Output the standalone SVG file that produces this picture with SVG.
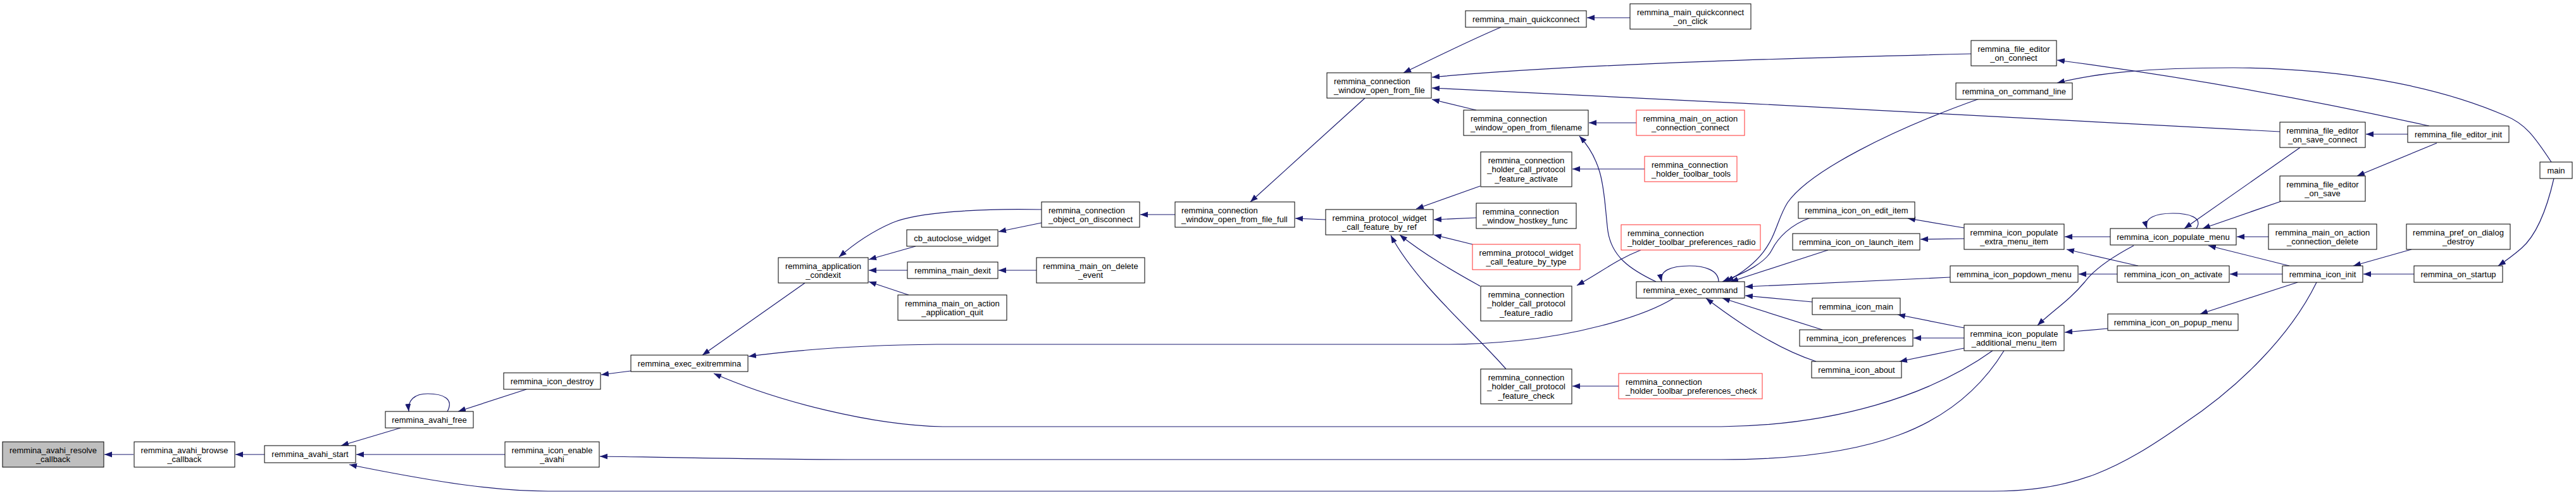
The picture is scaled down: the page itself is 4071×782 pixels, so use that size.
<svg xmlns="http://www.w3.org/2000/svg" width="4071" height="782" viewBox="0 0 4071 782">
<defs>
<style>
.node rect{fill:#ffffff;stroke:#000000;stroke-width:1}
.root rect{fill:#bfbfbf}
.red rect{stroke:#ff3030}
text{font-family:"Liberation Sans",Arial,Helvetica,sans-serif;font-size:13px;fill:#000000}
.c{text-anchor:middle}
.edges path{fill:none;stroke:#191970;stroke-width:1.2;marker-end:url(#arr)}
</style>
<marker id="arr" markerUnits="userSpaceOnUse" markerWidth="13" markerHeight="10" refX="12" refY="4.5" orient="auto">
<path d="M0,0 L12,4.5 L0,9 z" fill="#191970"/>
</marker>
</defs>
<rect x="0" y="0" width="4071" height="782" fill="#ffffff"/>
<g class="edges">
<path d="M211,718 L165,718"/>
<path d="M418,718 L372,718"/>
<path d="M633,676 L539,704"/>
<path d="M707,650 C718,630 700,622 676,622 C655,622 644,632 646,650"/>
<path d="M798,718 L563,718"/>
<path d="M3661,446 C3620,530 3540,610 3450,670 C3350,740 3280,776 3150,776 L866,776 C790,776 700,764 552,734"/>
<path d="M832,615 L724,650"/>
<path d="M997,586 L950,592"/>
<path d="M1272,447 L1110,561"/>
<path d="M2645,471 C2590,505 2480,530 2400,538 C2350,543 2320,544 2290,544 L1480,544 C1380,545 1280,550 1183,563"/>
<path d="M3149,554 C3050,625 2900,672 2720,674 L1490,674 C1380,672 1230,635 1128,590"/>
<path d="M3167,554 C3090,680 2950,726 2720,726 L1360,726 C1200,726 1050,722 948,721"/>
<path d="M1646,331 C1550,329 1450,335 1410,352 C1380,365 1350,385 1326,406"/>
<path d="M1447,389 L1373,410"/>
<path d="M1434,427 L1373,427"/>
<path d="M1436,466 L1373,445"/>
<path d="M1646,352 L1578,366"/>
<path d="M1857,339 L1802,339"/>
<path d="M1638,427 L1578,427"/>
<path d="M2157,155 L1976,319"/>
<path d="M2095,347 L2047,345"/>
<path d="M2372,43 C2320,65 2260,95 2218,115"/>
<path d="M3115,85 C2900,90 2500,100 2263,122"/>
<path d="M3603,208 C3300,190 2700,160 2263,139"/>
<path d="M2333,174 L2263,157"/>
<path d="M2576,28 L2508,28"/>
<path d="M2586,194 L2511,194"/>
<path d="M2617,445 C2575,425 2547,405 2541,365 C2534,310 2538,260 2496,215"/>
<path d="M2599,267 L2485,267"/>
<path d="M2339,294 L2238,330"/>
<path d="M2333,344 L2266,347"/>
<path d="M2327,386 L2266,371"/>
<path d="M2339,452 C2300,430 2255,405 2212,371"/>
<path d="M2380,583 C2330,525 2240,450 2198,372"/>
<path d="M2593,395 C2555,410 2530,430 2492,451"/>
<path d="M2558,610 L2485,610"/>
<path d="M2716,445 C2716,426 2692,420 2670,420 C2640,420 2622,428 2626,445"/>
<path d="M3128,156 C2990,205 2860,270 2825,320 C2800,360 2810,400 2728,445"/>
<path d="M2861,344 C2830,355 2810,375 2800,395 C2790,415 2760,430 2722,445"/>
<path d="M2889,395 L2735,445"/>
<path d="M3082,438 L2758,453"/>
<path d="M2864,477 L2758,467"/>
<path d="M2880,521 L2722,471"/>
<path d="M2870,571 C2820,555 2760,520 2696,471"/>
<path d="M3104,360 L3015,345"/>
<path d="M3104,377 L3035,378"/>
<path d="M3335,374 L3263,374"/>
<path d="M3471,361 C3482,344 3460,337 3434,337 C3405,337 3388,345 3393,361"/>
<path d="M3635,233 L3452,361"/>
<path d="M3605,318 L3481,361"/>
<path d="M3585,374 L3535,374"/>
<path d="M3618,420 L3490,388"/>
<path d="M3372,388 C3340,405 3310,425 3295,445 C3270,475 3245,490 3220,514"/>
<path d="M3379,420 L3266,394"/>
<path d="M3346,433 L3285,433"/>
<path d="M3331,519 L3263,525"/>
<path d="M3104,518 L2999,497"/>
<path d="M3104,534 L3024,534"/>
<path d="M3104,550 L3002,571"/>
<path d="M3607,433 L3524,433"/>
<path d="M3631,446 L3477,496"/>
<path d="M3815,433 L3735,433"/>
<path d="M4036,282 C4025,330 4010,370 3985,392 C3970,405 3960,412 3948,420"/>
<path d="M4032,256 C4005,215 3990,195 3960,183 C3850,135 3700,108 3530,107 C3390,107 3310,116 3251,131"/>
<path d="M3839,199 C3700,168 3500,128 3251,95"/>
<path d="M3805,212 L3739,212"/>
<path d="M3851,226 L3725,278"/>
<path d="M3811,394 L3719,420"/>
</g>
<g id="n1" class="node root"><rect x="4" y="698" width="160" height="40"/><text class="c" x="84" y="715.5">remmina_avahi_resolve</text><text class="c" x="84" y="729.5">_callback</text></g>
<g id="n2" class="node"><rect x="212" y="698" width="159" height="40"/><text class="c" x="291.5" y="715.5">remmina_avahi_browse</text><text class="c" x="291.5" y="729.5">_callback</text></g>
<g id="n3" class="node"><rect x="418" y="704" width="144" height="27"/><text class="c" x="490" y="722">remmina_avahi_start</text></g>
<g id="n4" class="node"><rect x="609" y="650" width="139" height="26"/><text class="c" x="678.5" y="667.5">remmina_avahi_free</text></g>
<g id="n5" class="node"><rect x="796" y="589" width="153" height="26"/><text class="c" x="872.5" y="606.5">remmina_icon_destroy</text></g>
<g id="n6" class="node"><rect x="997" y="561" width="185" height="26"/><text class="c" x="1089.5" y="578.5">remmina_exec_exitremmina</text></g>
<g id="n7" class="node"><rect x="1230" y="407" width="142" height="40"/><text class="c" x="1301" y="424.5">remmina_application</text><text class="c" x="1301" y="438.5">_condexit</text></g>
<g id="n8" class="node"><rect x="798" y="698" width="149" height="40"/><text class="c" x="872.5" y="715.5">remmina_icon_enable</text><text class="c" x="872.5" y="729.5">_avahi</text></g>
<g id="n9" class="node"><rect x="1433" y="363" width="144" height="26"/><text class="c" x="1505" y="380.5">cb_autoclose_widget</text></g>
<g id="n10" class="node"><rect x="1646" y="319" width="155" height="40"/><text x="1657" y="336.5">remmina_connection</text><text x="1657" y="350.5">_object_on_disconnect</text></g>
<g id="n11" class="node"><rect x="1857" y="319" width="189" height="40"/><text x="1867" y="336.5">remmina_connection</text><text x="1867" y="350.5">_window_open_from_file_full</text></g>
<g id="n12" class="node"><rect x="1434" y="414" width="143" height="26"/><text class="c" x="1505.5" y="431.5">remmina_main_dexit</text></g>
<g id="n13" class="node"><rect x="1638" y="407" width="171" height="40"/><text class="c" x="1723.5" y="424.5">remmina_main_on_delete</text><text class="c" x="1723.5" y="438.5">_event</text></g>
<g id="n14" class="node"><rect x="1419" y="466" width="172" height="40"/><text class="c" x="1505" y="483.5">remmina_main_on_action</text><text class="c" x="1505" y="497.5">_application_quit</text></g>
<g id="n15" class="node"><rect x="2097" y="115" width="165" height="40"/><text x="2108" y="132.5">remmina_connection</text><text x="2108" y="146.5">_window_open_from_file</text></g>
<g id="n16" class="node"><rect x="2316" y="17" width="191" height="26"/><text class="c" x="2411.5" y="34.5">remmina_main_quickconnect</text></g>
<g id="n17" class="node"><rect x="2576" y="6" width="191" height="40"/><text class="c" x="2671.5" y="23.5">remmina_main_quickconnect</text><text class="c" x="2671.5" y="37.5">_on_click</text></g>
<g id="n18" class="node"><rect x="2313" y="174" width="197" height="40"/><text x="2324" y="191.5">remmina_connection</text><text x="2324" y="205.5">_window_open_from_filename</text></g>
<g id="n19" class="node red"><rect x="2586" y="174" width="171" height="40"/><text class="c" x="2671.5" y="191.5">remmina_main_on_action</text><text class="c" x="2671.5" y="205.5">_connection_connect</text></g>
<g id="n20" class="node"><rect x="2340" y="240" width="144" height="55"/><text class="c" x="2412" y="257.5">remmina_connection</text><text class="c" x="2412" y="272">_holder_call_protocol</text><text class="c" x="2412" y="286.5">_feature_activate</text></g>
<g id="n21" class="node red"><rect x="2599" y="247" width="146" height="40"/><text x="2610" y="264.5">remmina_connection</text><text x="2610" y="278.5">_holder_toolbar_tools</text></g>
<g id="n22" class="node"><rect x="2333" y="321" width="158" height="40"/><text x="2343" y="338.5">remmina_connection</text><text x="2343" y="352.5">_window_hostkey_func</text></g>
<g id="n23" class="node"><rect x="2095" y="331" width="170" height="40"/><text class="c" x="2180" y="348.5">remmina_protocol_widget</text><text class="c" x="2180" y="362.5">_call_feature_by_ref</text></g>
<g id="n24" class="node red"><rect x="2327" y="386" width="170" height="40"/><text class="c" x="2412" y="403.5">remmina_protocol_widget</text><text class="c" x="2412" y="417.5">_call_feature_by_type</text></g>
<g id="n25" class="node red"><rect x="2562" y="355" width="220" height="40"/><text x="2572" y="372.5">remmina_connection</text><text x="2572" y="386.5">_holder_toolbar_preferences_radio</text></g>
<g id="n26" class="node"><rect x="2340" y="452" width="144" height="55"/><text class="c" x="2412" y="469.5">remmina_connection</text><text class="c" x="2412" y="484">_holder_call_protocol</text><text class="c" x="2412" y="498.5">_feature_radio</text></g>
<g id="n27" class="node"><rect x="2586" y="445" width="171" height="26"/><text class="c" x="2671.5" y="462.5">remmina_exec_command</text></g>
<g id="n28" class="node"><rect x="2340" y="583" width="144" height="55"/><text class="c" x="2412" y="600.5">remmina_connection</text><text class="c" x="2412" y="615">_holder_call_protocol</text><text class="c" x="2412" y="629.5">_feature_check</text></g>
<g id="n29" class="node red"><rect x="2558" y="590" width="227" height="40"/><text x="2569" y="607.5">remmina_connection</text><text x="2569" y="621.5">_holder_toolbar_preferences_check</text></g>
<g id="n30" class="node"><rect x="3115" y="64" width="135" height="40"/><text class="c" x="3182.5" y="81.5">remmina_file_editor</text><text class="c" x="3182.5" y="95.5">_on_connect</text></g>
<g id="n31" class="node"><rect x="3091" y="131" width="184" height="26"/><text class="c" x="3183" y="148.5">remmina_on_command_line</text></g>
<g id="n32" class="node"><rect x="2842" y="319" width="184" height="26"/><text class="c" x="2934" y="336.5">remmina_icon_on_edit_item</text></g>
<g id="n33" class="node"><rect x="2833" y="369" width="201" height="26"/><text class="c" x="2933.5" y="386.5">remmina_icon_on_launch_item</text></g>
<g id="n34" class="node"><rect x="3104" y="354" width="158" height="40"/><text class="c" x="3183" y="371.5">remmina_icon_populate</text><text class="c" x="3183" y="385.5">_extra_menu_item</text></g>
<g id="n35" class="node"><rect x="3335" y="361" width="199" height="26"/><text class="c" x="3434.5" y="378.5">remmina_icon_populate_menu</text></g>
<g id="n36" class="node"><rect x="3585" y="354" width="171" height="40"/><text class="c" x="3670.5" y="371.5">remmina_main_on_action</text><text class="c" x="3670.5" y="385.5">_connection_delete</text></g>
<g id="n37" class="node"><rect x="3603" y="193" width="135" height="40"/><text class="c" x="3670.5" y="210.5">remmina_file_editor</text><text class="c" x="3670.5" y="224.5">_on_save_connect</text></g>
<g id="n38" class="node"><rect x="3805" y="199" width="160" height="26"/><text class="c" x="3885" y="216.5">remmina_file_editor_init</text></g>
<g id="n39" class="node"><rect x="3603" y="278" width="135" height="40"/><text class="c" x="3670.5" y="295.5">remmina_file_editor</text><text class="c" x="3670.5" y="309.5">_on_save</text></g>
<g id="n40" class="node"><rect x="4014" y="256" width="51" height="26"/><text class="c" x="4039.5" y="273.5">main</text></g>
<g id="n41" class="node"><rect x="3803" y="354" width="164" height="40"/><text class="c" x="3885" y="371.5">remmina_pref_on_dialog</text><text class="c" x="3885" y="385.5">_destroy</text></g>
<g id="n42" class="node"><rect x="3346" y="420" width="177" height="26"/><text class="c" x="3434.5" y="437.5">remmina_icon_on_activate</text></g>
<g id="n43" class="node"><rect x="3607" y="420" width="127" height="26"/><text class="c" x="3670.5" y="437.5">remmina_icon_init</text></g>
<g id="n44" class="node"><rect x="3815" y="420" width="140" height="26"/><text class="c" x="3885" y="437.5">remmina_on_startup</text></g>
<g id="n45" class="node"><rect x="3331" y="496" width="206" height="26"/><text class="c" x="3434" y="513.5">remmina_icon_on_popup_menu</text></g>
<g id="n46" class="node"><rect x="3082" y="420" width="202" height="26"/><text class="c" x="3183" y="437.5">remmina_icon_popdown_menu</text></g>
<g id="n47" class="node"><rect x="2864" y="471" width="139" height="26"/><text class="c" x="2933.5" y="488.5">remmina_icon_main</text></g>
<g id="n48" class="node"><rect x="2844" y="521" width="179" height="26"/><text class="c" x="2933.5" y="538.5">remmina_icon_preferences</text></g>
<g id="n49" class="node"><rect x="2863" y="571" width="142" height="26"/><text class="c" x="2934" y="588.5">remmina_icon_about</text></g>
<g id="n50" class="node"><rect x="3104" y="514" width="158" height="40"/><text class="c" x="3183" y="531.5">remmina_icon_populate</text><text class="c" x="3183" y="545.5">_additional_menu_item</text></g>
</svg>
